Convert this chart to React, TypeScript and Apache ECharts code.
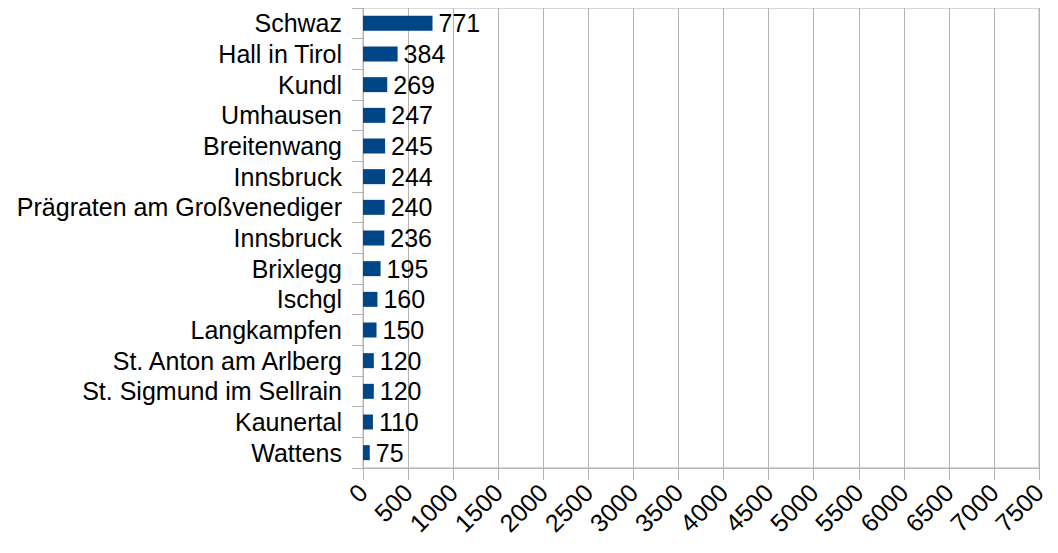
import React, { useEffect, useRef } from "react";
import * as echarts from "echarts";

const categories = [
  "Schwaz",
  "Hall in Tirol",
  "Kundl",
  "Umhausen",
  "Breitenwang",
  "Innsbruck",
  "Prägraten am Großvenediger",
  "Innsbruck ",
  "Brixlegg",
  "Ischgl",
  "Langkampfen",
  "St. Anton am Arlberg",
  "St. Sigmund im Sellrain",
  "Kaunertal",
  "Wattens",
];
const values = [771, 384, 269, 247, 245, 244, 240, 236, 195, 160, 150, 120, 120, 110, 75];
const xMin = 0;
const xMax = 7500;
const xInterval = 500;

const FONT = "'Liberation Sans', Arial, sans-serif";
const GRID = "#b3b3b3";

export default function App() {
  const ref = useRef<HTMLDivElement>(null);
  useEffect(() => {
    if (!ref.current) return;
    const chart = echarts.init(ref.current, undefined, { renderer: "svg" });
    chart.setOption({
      animation: false,
      textStyle: { fontFamily: FONT },
      grid: {
        left: 355,
        right: 2,
        top: 0,
        bottom: 77,
        show: true,
        borderColor: GRID,
        borderWidth: 1,
        containLabel: false,
      },
      xAxis: {
        type: "value",
        min: xMin,
        max: xMax,
        interval: xInterval,
        axisLine: { show: true, lineStyle: { color: GRID } },
        axisTick: { show: true, length: 12, lineStyle: { color: GRID } },
        splitLine: { show: true, lineStyle: { color: GRID } },
        axisLabel: {
          rotate: 45,
          color: "#000",
          fontSize: 25,
          fontFamily: FONT,
          margin: 20,
          formatter: (v: number) => String(v),
        },
      },
      yAxis: {
        type: "category",
        data: categories,
        inverse: true,
        axisLine: { show: true, lineStyle: { color: GRID } },
        axisTick: { show: true, length: 11, lineStyle: { color: GRID } },
        axisLabel: {
          interval: 0,
          color: "#000",
          fontSize: 25,
          fontFamily: FONT,
          margin: 21,
          formatter: (v: string) => v.trim(),
        },
      },
      series: [
        {
          type: "bar",
          data: values,
          barWidth: 15,
          itemStyle: { color: "#004586" },
          label: {
            show: true,
            position: "right",
            distance: 6,
            color: "#000",
            fontSize: 25,
            fontFamily: FONT,
          },
        },
      ],
    });
    return () => chart.dispose();
  }, []);
  return <div ref={ref} style={{ width: 1042, height: 537 }} />;
}
